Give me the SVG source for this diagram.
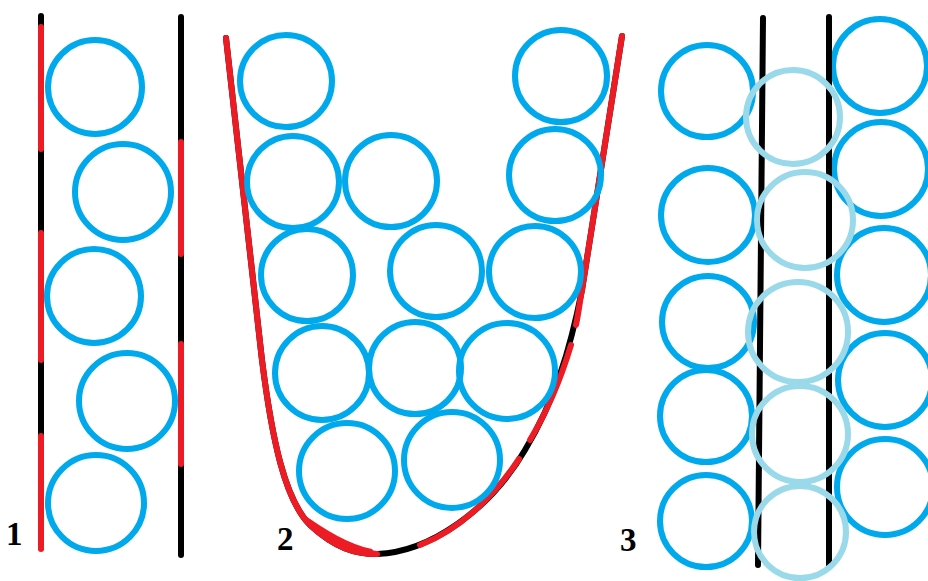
<svg xmlns="http://www.w3.org/2000/svg" width="928" height="581" viewBox="0 0 928 581">
<style>
.b{fill:none;stroke:#00A8EC;stroke-width:6}
.lb{fill:none;stroke:#99D9EA;stroke-width:6}
.k{fill:none;stroke:#000;stroke-width:6;stroke-linecap:round}
.r{fill:none;stroke:#ED1C24;stroke-width:6;stroke-linecap:round}
.lbl{font-family:"Liberation Serif",serif;font-weight:bold;font-size:33px;fill:#000}
</style>
<rect width="928" height="581" fill="#fff"/>
<g id="panel1">
<line class="k" x1="41" y1="16" x2="41" y2="548"/>
<line class="k" x1="181" y1="17" x2="181" y2="555"/>
<line class="r" x1="41" y1="27" x2="41" y2="149"/>
<line class="r" x1="41" y1="233" x2="41" y2="360"/>
<line class="r" x1="41" y1="436" x2="41" y2="549"/>
<line class="r" x1="181" y1="142" x2="181" y2="254"/>
<line class="r" x1="181" y1="344" x2="181" y2="464"/>
<circle class="b" cx="95" cy="87" r="47"/>
<circle class="b" cx="123" cy="192" r="48"/>
<circle class="b" cx="94" cy="296" r="47"/>
<circle class="b" cx="127" cy="401" r="48"/>
<circle class="b" cx="96" cy="503" r="48"/>
<text class="lbl" x="6" y="545">1</text>
</g>
<g id="panel2">
<path class="k" d="M226,38 C240,160 250,260 262,360 C272,440 285,500 310,525 C335,548 355,554 377,554 C430,552 490,510 525,450 C555,400 570,350 582,290 L622,36"/>
<path class="r" d="M226,38 C240,160 250,260 262,360 C272,440 285,500 310,525 C335,548 355,554 377,554"/>
<path fill="#ED1C24" d="M300,512 C318,535 345,552 377,556 L372,549 C350,545 325,530 300,512Z"/>
<path class="r" d="M420,545 C460,530 495,495 519,459"/>
<path class="r" d="M530,440 C548,410 562,375 571,345"/>
<path class="r" d="M576,325 C579,310 580,300 582,290 L622,36"/>
<circle class="b" cx="286" cy="81" r="46"/>
<circle class="b" cx="293" cy="182" r="46"/>
<circle class="b" cx="391" cy="181" r="46"/>
<circle class="b" cx="561" cy="76" r="46"/>
<circle class="b" cx="555" cy="175" r="46"/>
<circle class="b" cx="307" cy="275" r="46"/>
<circle class="b" cx="436" cy="271" r="46"/>
<circle class="b" cx="535" cy="272" r="46"/>
<circle class="b" cx="322" cy="373" r="47"/>
<circle class="b" cx="415" cy="368" r="46"/>
<circle class="b" cx="507" cy="371" r="48"/>
<circle class="b" cx="347" cy="471" r="48"/>
<circle class="b" cx="452" cy="460" r="48"/>
<text class="lbl" x="277" y="550">2</text>
</g>
<g id="panel3">
<circle class="b" cx="707" cy="91" r="46"/>
<circle class="b" cx="708" cy="215" r="47"/>
<circle class="b" cx="708" cy="322" r="46"/>
<circle class="b" cx="706" cy="416" r="46"/>
<circle class="b" cx="706" cy="521" r="46"/>
<circle class="b" cx="880" cy="66" r="47"/>
<circle class="b" cx="881" cy="169" r="47"/>
<circle class="b" cx="884" cy="275" r="47"/>
<circle class="b" cx="885" cy="380" r="47"/>
<circle class="b" cx="885" cy="487" r="48"/>
<line class="k" x1="763" y1="18" x2="758" y2="565"/>
<line class="k" x1="829" y1="17" x2="829" y2="565"/>
<circle class="lb" cx="793" cy="117" r="47"/>
<circle class="lb" cx="805" cy="220" r="48"/>
<circle class="lb" cx="798" cy="332" r="50"/>
<circle class="lb" cx="800" cy="434" r="48"/>
<circle class="lb" cx="800" cy="532" r="46"/>
<text class="lbl" x="620" y="551">3</text>
</g>
</svg>
